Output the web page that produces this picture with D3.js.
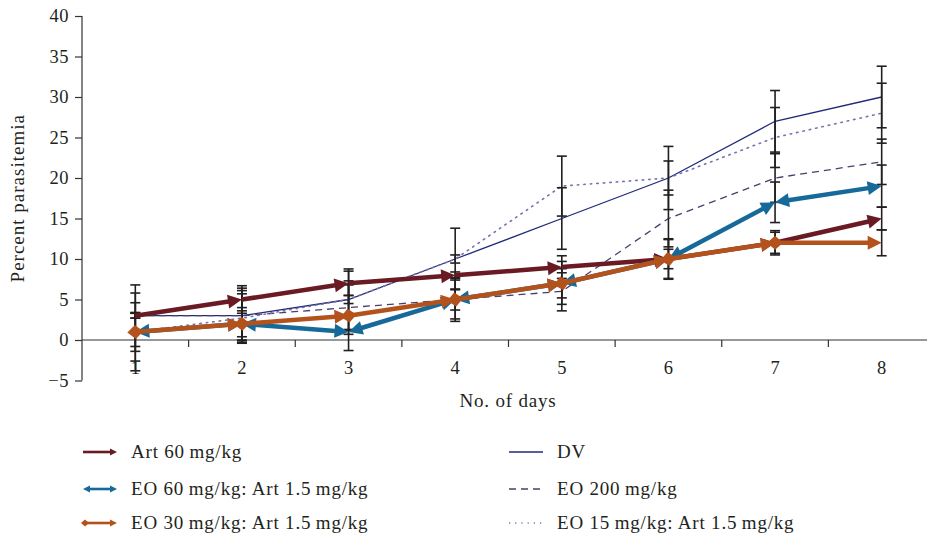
<!DOCTYPE html>
<html><head><meta charset="utf-8">
<script src="https://cdn.jsdelivr.net/npm/d3@7"></script>
<style>
html,body{margin:0;padding:0;background:#fff;}
svg{display:block;font-family:"Liberation Serif","DejaVu Serif",serif;}
</style></head>
<body><svg id="chart" width="927" height="539"></svg>
<script>
// ---- data ----
const days = [1, 2, 3, 4, 5, 6, 7, 8];
const yTicks = [-5, 0, 5, 10, 15, 20, 25, 30, 35, 40];
const seriesNames = ["Art 60\u2009mg/kg", "EO 60\u2009mg/kg: Art 1.5\u2009mg/kg", "EO 30\u2009mg/kg: Art 1.5\u2009mg/kg",
                     "DV", "EO 200\u2009mg/kg", "EO 15\u2009mg/kg: Art 1.5\u2009mg/kg"];
const art60    = [3, 5, 7, 8, 9, 10, 12, 15];
const art60Err = [3.8, 1.7, 1.5, 0.4, 0.7, 2.4, 1.5, 1.4];
const eo60     = [1, 2, 1, 5, 7, 10, 17, 19];
const eo60Err  = [4.8, 1.6, 0.3, 2.4, 3.4, 1.2, 2.5, 2.6];
const eo30     = [1, 2, 3, 5, 7, 10, 12, 12];
const eo30Err  = [2.4, 2.0, 4.3, 1.3, 1.8, 2.5, 1.3, 1.6];
const dv       = [3, 3, 5, 10, 15, 20, 27, 30];
const dvErr    = [0.3, 3.1, 3.77, 3.8, 3.8, 3.9, 3.8, 3.8];
const eo200    = [3, 3, 4, 5, 6, 15, 20, 22];
const eo200Err = [0.3, 3.4, 2.8, 2.7, 1.6, 3.5, 3.0, 2.8];
const eo15     = [1, 2.7, 5, 10, 19, 20, 25, 28];
const eo15Err  = [3.6, 3.0, 0.5, 0.5, 3.7, 2.1, 3.7, 3.7];

// ---- styling ----
const series = [
  {name: seriesNames[0], v: art60, e: art60Err, color: "#6a1a22", w: 4.5, start: null, end: "arrow", thick: true},
  {name: seriesNames[1], v: eo60,  e: eo60Err,  color: "#17699a", w: 4.5, start: "arrow", end: "arrow", thick: true},
  {name: seriesNames[2], v: eo30,  e: eo30Err,  color: "#b4521b", w: 4.5, start: "diamond", end: "arrow", thick: true},
  {name: seriesNames[3], v: dv,    e: dvErr,    color: "#1f2b78", w: 1.3, dash: null, thick: false},
  {name: seriesNames[4], v: eo200, e: eo200Err, color: "#4a3e6c", w: 1.3, dash: "7,5", thick: false},
  {name: seriesNames[5], v: eo15,  e: eo15Err,  color: "#7c70aa", w: 1.6, dash: "1.5,5", thick: false}
];

const svg = d3.select("#chart");
const x = d3.scaleBand().domain(days).range([82, 935]);
const y = d3.scaleLinear().domain([-5, 40]).range([380.5, 16]);
const cx = d => x(d) + x.bandwidth() / 2;
const axisColor = "#333";
const textColor = "#231f20";

// y axis
const yAxis = svg.append("g").attr("transform", "translate(82,0)")
  .call(d3.axisLeft(y).tickValues(yTicks).tickSize(7).tickPadding(6)
        .tickFormat(d => d < 0 ? "\u2212" + Math.abs(d) : d));
yAxis.select(".domain").attr("stroke", axisColor).attr("stroke-width", 1.2).attr("d", `M0,${y(-5)}V${y(40)}`);
yAxis.selectAll(".tick line").attr("stroke", axisColor).attr("stroke-width", 1.2);
yAxis.selectAll(".tick text").attr("font-size", 18.5).attr("fill", textColor)
  .attr("font-family", "Liberation Serif, serif").attr("letter-spacing", "0.5px");

// x axis at y=0
const xAxis = svg.append("g").attr("transform", `translate(0,${y(0)})`);
xAxis.append("line").attr("x1", 82).attr("x2", 927).attr("y1", 0).attr("y2", 0)
  .attr("stroke", axisColor).attr("stroke-width", 1.2);
xAxis.selectAll("line.tk").data(days.slice(1)).enter().append("line").attr("class", "tk")
  .attr("x1", d => x(d)).attr("x2", d => x(d)).attr("y1", 0).attr("y2", 7)
  .attr("stroke", axisColor).attr("stroke-width", 1.2);
svg.append("g").selectAll("text").data(days).enter().append("text")
  .attr("x", d => cx(d)).attr("y", 374).attr("text-anchor", "middle")
  .attr("font-size", 18.5).attr("fill", textColor).text(d => d);

// axis titles
svg.append("text").attr("x", 508).attr("y", 407).attr("text-anchor", "middle")
  .attr("font-size", 19).attr("letter-spacing", "0.8px").attr("fill", textColor).text("No. of days");
svg.append("text").attr("transform", `translate(24,${(y(-5) + y(40)) / 2}) rotate(-90)`)
  .attr("text-anchor", "middle").attr("font-size", 19).attr("letter-spacing", "1px")
  .attr("fill", textColor).text("Percent parasitemia");

// helpers for markers
function arrowHead(g, tip, from, color, L, W) {
  const dx = tip[0] - from[0], dy = tip[1] - from[1];
  const len = Math.hypot(dx, dy); const ux = dx / len, uy = dy / len;
  const bx = tip[0] - L * ux, by = tip[1] - L * uy;
  g.append("path").attr("d", `M${tip[0]},${tip[1]}L${bx + W * -uy},${by + W * ux}L${bx - W * -uy},${by - W * ux}Z`)
    .attr("fill", color);
}
function diamond(g, c, toward, color, L, W) {
  const dx = toward[0] - c[0], dy = toward[1] - c[1];
  const len = Math.hypot(dx, dy); const ux = dx / len, uy = dy / len;
  g.append("path").attr("d",
    `M${c[0] - L * ux},${c[1] - L * uy}L${c[0] - W * uy},${c[1] + W * ux}L${c[0] + L * ux},${c[1] + L * uy}L${c[0] + W * uy},${c[1] - W * ux}Z`)
    .attr("fill", color);
}
function segShort(p, q, a, b) {
  const dx = q[0] - p[0], dy = q[1] - p[1]; const len = Math.hypot(dx, dy);
  const ux = dx / len, uy = dy / len;
  return [[p[0] + a * ux, p[1] + a * uy], [q[0] - b * ux, q[1] - b * uy]];
}

// thin lines
const line = d3.line().x((d, i) => cx(days[i])).y(d => y(d));
series.filter(s => !s.thick).forEach(s => {
  svg.append("path").attr("d", line(s.v)).attr("fill", "none").attr("stroke", s.color)
    .attr("stroke-width", s.w).attr("stroke-dasharray", s.dash).attr("stroke-linecap", s.dash && s.dash.startsWith("1.5") ? "round" : "butt");
});

// error bars
const eb = svg.append("g").attr("stroke", "#231f20").attr("stroke-width", 1.6);
series.forEach(s => {
  days.forEach((d, i) => {
    const X = cx(d), y1 = y(s.v[i] + s.e[i]), y2 = y(s.v[i] - s.e[i]);
    eb.append("line").attr("x1", X).attr("x2", X).attr("y1", y1).attr("y2", y2);
    eb.append("line").attr("x1", X - 5).attr("x2", X + 5).attr("y1", y1).attr("y2", y1);
    eb.append("line").attr("x1", X - 5).attr("x2", X + 5).attr("y1", y2).attr("y2", y2);
  });
});

// thick lines with per-segment end markers
series.filter(s => s.thick).forEach(s => {
  const g = svg.append("g");
  for (let i = 0; i < days.length - 1; i++) {
    const p = [cx(days[i]), y(s.v[i])], q = [cx(days[i + 1]), y(s.v[i + 1])];
    const a = s.start === "arrow" ? 10 : 0, b = s.end === "arrow" ? 10 : 0;
    const [pp, qq] = segShort(p, q, a, b);
    g.append("line").attr("x1", pp[0]).attr("y1", pp[1]).attr("x2", qq[0]).attr("y2", qq[1])
      .attr("stroke", s.color).attr("stroke-width", s.w);
    if (s.end === "arrow") arrowHead(g, q, p, s.color, 14, 7);
    if (s.start === "arrow") arrowHead(g, p, q, s.color, 14, 7);
    if (s.start === "diamond") diamond(g, p, q, s.color, 8, 7);
  }
});

// legend
const legRows = [452, 489, 523];
const legend = svg.append("g");
series.forEach((s, i) => {
  const col = i < 3 ? 0 : 1, row = i % 3;
  const x0 = col === 0 ? 83 : 509, x1 = x0 + 34, ty = legRows[row];
  const g = legend.append("g");
  if (s.thick) {
    const a = s.start === "arrow" ? 5 : 0, b = 5;
    g.append("line").attr("x1", x0 + a).attr("x2", x1 - b).attr("y1", ty).attr("y2", ty)
      .attr("stroke", s.color).attr("stroke-width", 2.6);
    arrowHead(g, [x1, ty], [x0, ty], s.color, 7, 3.6);
    if (s.start === "arrow") arrowHead(g, [x0, ty], [x1, ty], s.color, 7, 3.6);
    if (s.start === "diamond") diamond(g, [x0 + 2, ty], [x1, ty], s.color, 4, 3.6);
  } else {
    g.append("line").attr("x1", x0).attr("x2", x1).attr("y1", ty).attr("y2", ty)
      .attr("stroke", s.color).attr("stroke-width", s.w)
      .attr("stroke-dasharray", s.dash ? (s.dash.startsWith("1.5") ? "1.2,5" : "7,5") : null);
  }
  g.append("text").attr("x", col === 0 ? 131 : 557).attr("y", ty + 6)
    .attr("font-size", 19).attr("letter-spacing", "0.8px").attr("fill", textColor).text(s.name);
});
</script></body></html>
